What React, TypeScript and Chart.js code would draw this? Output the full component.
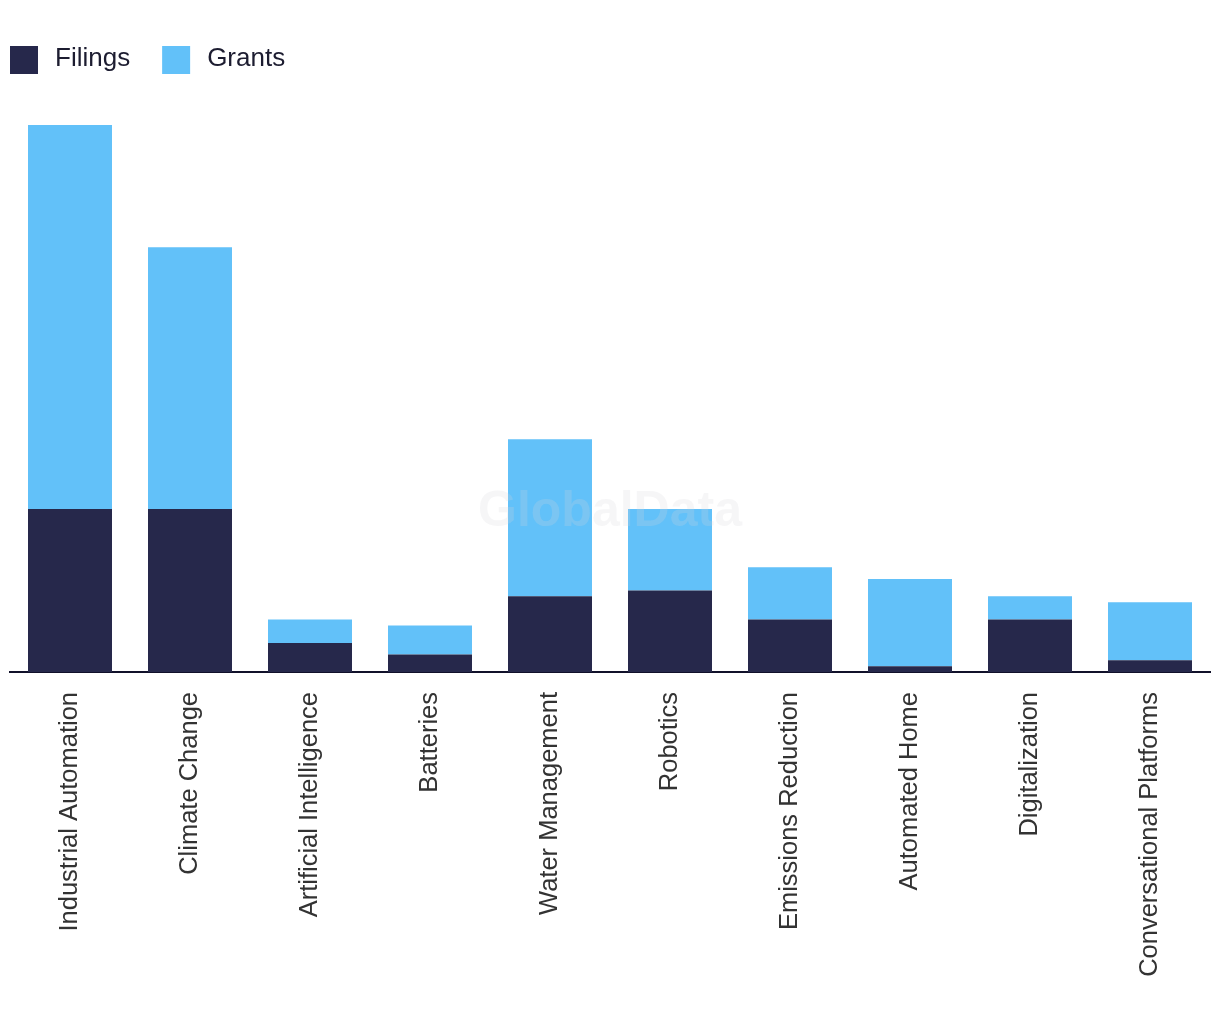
import React, { useEffect, useRef } from "react";
import { Chart, registerables } from "chart.js";

Chart.register(...registerables);

const categories = [
  "Industrial Automation",
  "Climate Change",
  "Artificial Intelligence",
  "Batteries",
  "Water Management",
  "Robotics",
  "Emissions Reduction",
  "Automated Home",
  "Digitalization",
  "Conversational Platforms",
];
const filings = [28, 28, 5, 3, 13, 14, 9, 1, 9, 2];
const grants = [66, 45, 4, 5, 27, 14, 9, 15, 4, 10];
const seriesNames = ["Filings", "Grants"];
const seriesColors = ["#26284B", "#62C1F9"];

const FONT = "'Liberation Sans', Arial, sans-serif";

const legendPlugin = {
  id: "customLegend",
  afterDraw(chart: any) {
    const ctx = chart.ctx;
    ctx.save();
    ctx.font = `26px ${FONT}`;
    ctx.textBaseline = "middle";
    let x = 10;
    seriesNames.forEach((name, i) => {
      ctx.fillStyle = seriesColors[i];
      ctx.fillRect(x, 46, 28, 28);
      ctx.fillStyle = "#1c1c30";
      ctx.fillText(name, x + 45, 59);
      x += 45 + ctx.measureText(name).width + 32;
    });
    ctx.restore();
  },
};

const watermarkPlugin = {
  id: "watermark",
  afterDatasetsDraw(chart: any) {
    const ctx = chart.ctx;
    ctx.save();
    ctx.font = `bold 50px ${FONT}`;
    ctx.textAlign = "center";
    ctx.textBaseline = "middle";
    ctx.fillStyle = "rgba(215,215,220,0.22)";
    ctx.fillText("GlobalData", 610, 512);
    ctx.restore();
  },
};

export default function App() {
  const ref = useRef<HTMLCanvasElement>(null);
  useEffect(() => {
    if (!ref.current) return;
    const chart = new Chart(ref.current, {
      type: "bar",
      data: {
        labels: categories,
        datasets: [
          { label: seriesNames[0], data: filings, backgroundColor: seriesColors[0] },
          { label: seriesNames[1], data: grants, backgroundColor: seriesColors[1] },
        ],
      },
      options: {
        responsive: false,
        animation: false,
        layout: { padding: { top: 90, left: 10, right: 10, bottom: 0 } },
        datasets: { bar: { barPercentage: 0.7, categoryPercentage: 1.0 } },
        plugins: { legend: { display: false }, tooltip: { enabled: false } },
        scales: {
          x: {
            stacked: true,
            grid: { display: false, drawTicks: false },
            border: { display: true, color: "#11112a", width: 2 },
            ticks: {
              minRotation: 90,
              maxRotation: 90,
              autoSkip: false,
              padding: 20,
              color: "#333333",
              font: { family: FONT, size: 25.5 },
            },
            afterFit: (scale: any) => {
              scale.height = 348;
            },
          },
          y: {
            stacked: true,
            display: false,
            min: 0,
            max: 100,
          },
        },
      },
      plugins: [legendPlugin, watermarkPlugin],
    });
    return () => chart.destroy();
  }, []);
  return (
    <div style={{ position: "absolute", left: 0, top: 0, width: 1220, height: 1020, background: "#fff" }}>
      <canvas ref={ref} width={1220} height={1020} />
    </div>
  );
}
